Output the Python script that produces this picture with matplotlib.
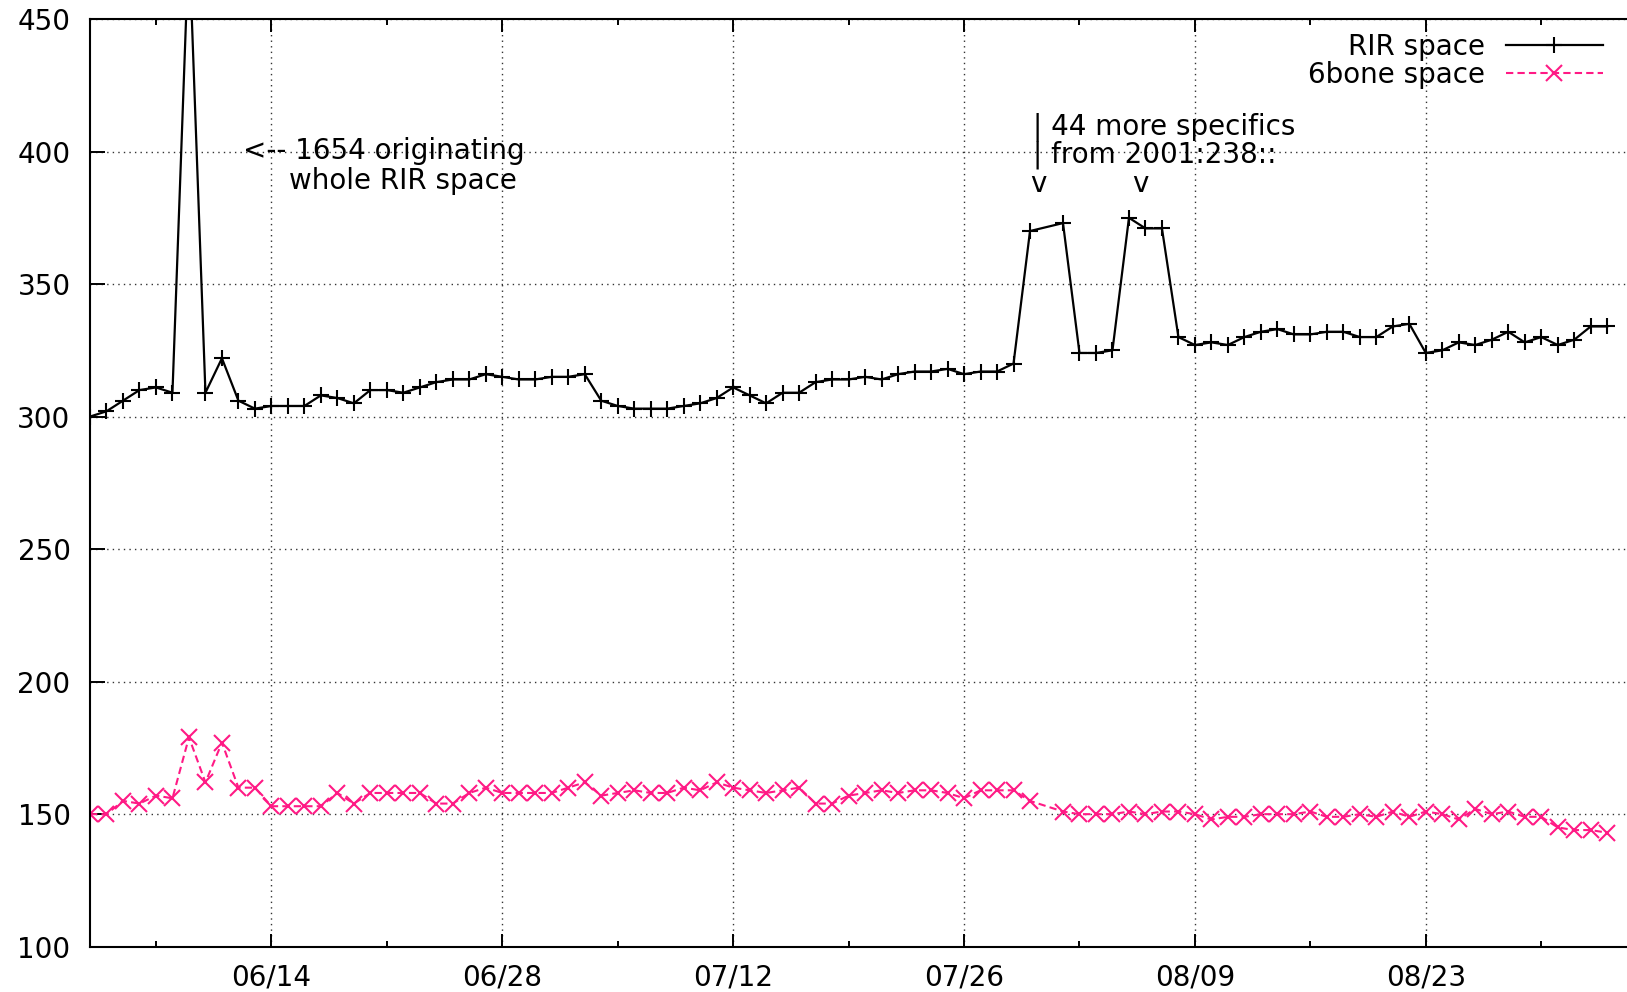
import numpy as np
import pandas as pd
import matplotlib
matplotlib.use("Agg")
import matplotlib.pyplot as plt
import matplotlib.dates as mdates

plt.rcParams['font.family'] = ['DejaVu Sans']
plt.rcParams['font.size'] = 20

# dnevne meritve, 31.7. manjka
zacetek = '2002-06-03'
st_dni = 93

rir_space = [300, 302, 306, 310, 311, 309, 480, 309, 322, 306,
             303, 304, 304, 304, 308, 307, 305, 310, 310, 309,
             311, 313, 314, 314, 316, 315, 314, 314, 315, 315,
             316, 306, 304, 303, 303, 303, 304, 305, 307, 311,
             308, 305, 309, 309, 313, 314, 314, 315, 314, 316,
             317, 317, 318, 316, 317, 317, 320, 370, None, 373,
             324, 324, 325, 375, 371, 371, 330, 327, 328, 327,
             330, 332, 333, 331, 331, 332, 332, 330, 330, 334,
             335, 324, 325, 328, 327, 329, 332, 328, 330, 327,
             329, 334, 334]

sixbone_space = [150, 150, 155, 154, 157, 156, 179, 162, 177, 160,
                 160, 153, 153, 153, 153, 158, 154, 158, 158, 158,
                 158, 154, 154, 158, 160, 158, 158, 158, 158, 160,
                 162, 157, 158, 159, 158, 158, 160, 159, 162, 160,
                 159, 158, 159, 160, 154, 154, 157, 158, 159, 158,
                 159, 159, 158, 156, 159, 159, 159, 155, None, 151,
                 150, 150, 150, 151, 150, 151, 151, 150, 148, 149,
                 149, 150, 150, 150, 151, 149, 149, 150, 149, 151,
                 149, 151, 150, 148, 152, 150, 151, 149, 149, 145,
                 144, 144, 143]

major_ticks = ['2002-06-14', '2002-06-28', '2002-07-12', '2002-07-26', '2002-08-09', '2002-08-23']
tick_labels = ['06/14', '06/28', '07/12', '07/26', '08/09', '08/23']
minor_ticks = ['2002-06-07', '2002-06-21', '2002-07-05', '2002-07-19', '2002-08-02', '2002-08-16', '2002-08-30']
y_ticks = [100, 150, 200, 250, 300, 350, 400, 450]

dnevi = pd.date_range(zacetek, periods=st_dni, freq='D')


def brez_manjkajocih(vrednosti):
    """vrne datume in vrednosti brez manjkajocih dni (gnuplot jih kar poveze)"""
    x = [d for d, v in zip(dnevi, vrednosti) if v is not None]
    y = [v for v in vrednosti if v is not None]
    return x, y


fig = plt.figure(figsize=(16.27, 9.92), dpi=100)
ax = fig.add_axes([90 / 1627, 1 - 946.7 / 992, 1 - 90 / 1627, (946.7 - 19) / 992])

x, y = brez_manjkajocih(rir_space)
ax.plot(x, y, color='black', lw=1.6, marker='+', ms=11, mew=1.5, label='RIR space', zorder=3)
x, y = brez_manjkajocih(sixbone_space)
ax.plot(x, y, color='#ff1a85', lw=1.5, ls=(0, (3.5, 2)), marker='x', ms=11, mew=1.5,
        label='6bone space', zorder=2)

# osi
t0 = pd.Timestamp(zacetek)
ax.set_xlim(t0, t0 + pd.Timedelta(days=93.2))
ax.set_ylim(100, 450)
ax.set_yticks(y_ticks)
ax.set_xticks(pd.to_datetime(major_ticks))
ax.set_xticklabels(tick_labels)
ax.set_xticks(pd.to_datetime(minor_ticks), minor=True)

ax.tick_params(axis='x', which='major', direction='in', length=9.5, width=1.4, top=True, pad=12)
ax.tick_params(axis='x', which='minor', direction='in', length=4.5, width=1.4, top=True)
ax.tick_params(axis='y', which='major', direction='in', length=11, width=1.4, right=False, pad=14)
for s in ['left', 'bottom', 'top']:
    ax.spines[s].set_linewidth(1.5)
ax.spines['right'].set_visible(False)

ax.grid(True, which='major', color='0.2', lw=1, ls=(0, (1, 3)))

# opombe
ax.text(mdates.date2num(pd.Timestamp('2002-06-20 19:00')), 397, '<-- 1654 originating',
        ha='center', va='baseline')
ax.text(mdates.date2num(pd.Timestamp('2002-06-21 23:00')), 386, 'whole RIR space',
        ha='center', va='baseline')
ax.text(mdates.date2num(pd.Timestamp('2002-07-30 04:00')), 395.8,
        '| 44 more specifics\n| from 2001:238::', ha='left', va='baseline', linespacing=1.0)
for d in ['2002-07-30 12:00', '2002-08-05 17:00']:
    ax.text(mdates.date2num(pd.Timestamp(d)), 384.8, 'v', ha='center', va='baseline')

leg = ax.legend(loc='upper right', bbox_to_anchor=(1603 / 1627, 1 - 33 / 992),
                bbox_transform=fig.transFigure, frameon=False, markerfirst=False,
                handlelength=3.5, handletextpad=0.75, labelspacing=0.0, borderpad=0,
                borderaxespad=0, numpoints=1)

fig.savefig('out.png', dpi=100)
